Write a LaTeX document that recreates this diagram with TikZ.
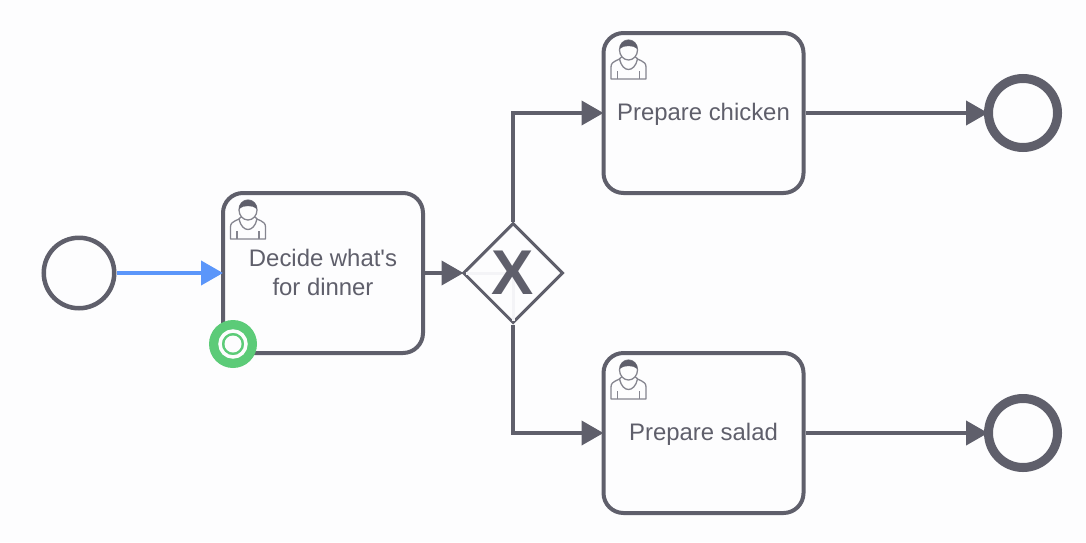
\documentclass[tikz,border=0pt]{standalone}
\usepackage{fontspec}
\setmainfont{Liberation Sans}
\usetikzlibrary{arrows.meta,shapes.geometric}
\definecolor{linegray}{HTML}{5F5F6B}
\definecolor{flow}{HTML}{5B96FA}
\definecolor{marker}{HTML}{5CCB78}
\definecolor{paper}{HTML}{FDFDFE}
\definecolor{iconline}{HTML}{85858F}
\definecolor{faint}{HTML}{F4F4F7}
\tikzset{
	startevent/.style={circle, draw=linegray, line width=0.045cm, fill=paper, minimum size=0.705cm, inner sep=0},
	endevent/.style={circle, draw=linegray, line width=0.09cm, fill=paper, minimum size=0.69cm, inner sep=0},
	task/.style={draw=linegray, line width=0.04cm, fill=paper, rounded corners=0.2cm, minimum width=2.0cm, minimum height=1.6cm, inner sep=0, align=center, text=linegray, font=\fontsize{6.8}{8.25}\selectfont},
	gateway/.style={diamond, aspect=1, draw=linegray, line width=0.03cm, fill=paper, minimum size=1.0cm, inner sep=0},
	seqflow/.style={-{Triangle[length=0.22cm,width=0.24cm]}, line width=0.04cm, draw=linegray, shorten >=-0.02cm},
	usericon/.pic={
		\draw[iconline, line width=0.013cm, line join=round] (-0.175,-0.29) -- (-0.175,-0.17) .. controls (-0.175,-0.10) and (-0.09,-0.11) .. (-0.07,-0.07) -- (0.07,-0.07) .. controls (0.09,-0.11) and (0.175,-0.10) .. (0.175,-0.17) -- (0.175,-0.29) -- cycle;
		\draw[iconline, line width=0.013cm, fill=paper] (0,0) ellipse [x radius=0.09, y radius=0.10];
		\draw[iconline, line width=0.013cm] (-0.09,-0.09) .. controls (-0.06,-0.23) and (0.06,-0.23) .. (0.09,-0.09);
		\draw[iconline, line width=0.013cm] (-0.11,-0.21) -- (-0.11,-0.29) (0.11,-0.21) -- (0.11,-0.29);
		\fill[linegray] (-0.09,0.01) .. controls (-0.09,0.13) and (0.09,0.13) .. (0.09,0.01) .. controls (0.05,0.05) and (-0.05,0.05) .. (-0.09,0.01) -- cycle;
	}
}
\begin{document}
\begin{tikzpicture}
	\useasboundingbox[fill=paper] (0,0) rectangle (10.86,5.42);
	% les evenements
	\node[startevent] (start) at (0.79,2.69) {};
	\node[endevent] (endchicken) at (10.23,4.29) {};
	\node[endevent] (endsalad) at (10.23,1.09) {};
	% les taches
	\node[task, text depth=0.02cm] (decide) at (3.23,2.69) {Decide what\textquotesingle s\\for dinner};
	\node[task, text height=0.20cm] (chicken) at (7.035,4.29) {Prepare chicken};
	\node[task, text height=0.20cm] (salad) at (7.035,1.09) {Prepare salad};
	% la porte
	\node[gateway] (gate) at (5.13,2.69) {};
	\draw[faint, line width=0.03cm, shorten <=0.04cm, shorten >=0.04cm] (gate.west) -- (gate.center) -- (gate.south);
	\node[text=linegray, font=\fontsize{18}{18}\selectfont\bfseries, inner sep=0] (gatemark) at (gate.center) {X};
	% les fleches
	\draw[seqflow, draw=flow, color=flow] (start) -- (decide);
	\draw[seqflow] (decide) -- (gate);
	\draw[seqflow] (gate.north) |- (chicken.west);
	\draw[seqflow] (gate.south) |- (salad.west);
	\draw[seqflow, shorten >=-0.04cm] (chicken) -- (endchicken);
	\draw[seqflow, shorten >=-0.04cm] (salad) -- (endsalad);
	% les icones
	\pic at ([shift={(0.27,-0.19)}]decide.north west) {usericon};
	\pic at ([shift={(0.27,-0.19)}]chicken.north west) {usericon};
	\pic at ([shift={(0.27,-0.19)}]salad.north west) {usericon};
	% le jeton
	\node[circle, fill=marker, minimum size=0.48cm, inner sep=0] (token) at (2.33,1.98) {};
	\node[circle, draw=paper, fill=marker, line width=0.035cm, minimum size=0.26cm, inner sep=0] (tokenring) at (token.center) {};
	\node[circle, fill=paper, minimum size=0.17cm, inner sep=0] (tokencore) at (token.center) {};
\end{tikzpicture}
\end{document}
